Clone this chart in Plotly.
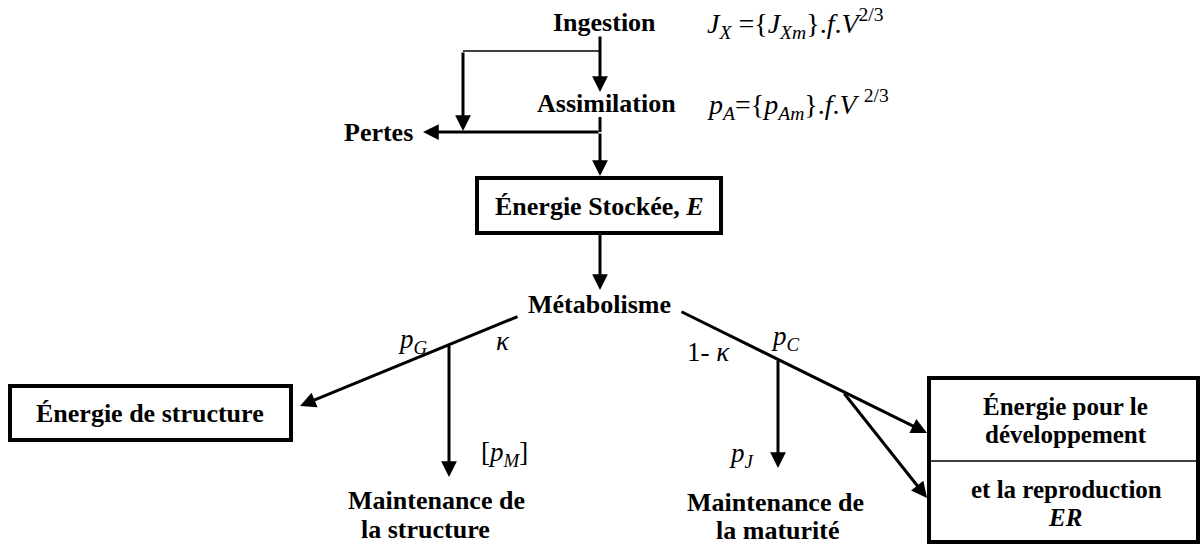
import plotly.graph_objects as go

# ---- text content of the diagram ----
flux_labels = ["Ingestion", "Assimilation", "Pertes", "Métabolisme"]
formulas = [
    "<i>J</i><sub><i>X</i></sub> ={<i>J</i><sub><i>Xm</i></sub>}.<i>f</i>.<i>V</i><sup>2/3</sup>",
    "<i>p</i><sub><i>A</i></sub>={<i>p</i><sub><i>Am</i></sub>}.<i>f</i>.<i>V</i> <sup>2/3</sup>",
]
box_labels = ["Énergie Stockée, <i>E</i>", "Énergie de structure"]
er_box_lines = ["Énergie pour le", "développement", "et la reproduction", "<i>ER</i>"]
maint_struct = ["Maintenance de", "la structure"]
maint_matur = ["Maintenance de", "la maturité"]
greek_labels = ["<i>p</i><sub><i>G</i></sub>", "<i>κ</i>", "1- <i>κ</i>", "<i>p</i><sub><i>C</i></sub>",
                "[<i>p</i><sub><i>M</i></sub>]", "<i>p</i><sub><i>J</i></sub>"]

W, H = 1202, 544
FONT = "Liberation Serif"
BOLD = 26
SMALL = 27
FORM = 28

fig = go.Figure()
fig.add_trace(go.Scatter(x=[0, W], y=[0, H], mode="markers", marker=dict(opacity=0), hoverinfo="skip",
                         showlegend=False))

ann = []
shapes = []


def txt(s, x, y, size=BOLD, bold=True, xanchor="center"):
    t = f"<b>{s}</b>" if bold else s
    ann.append(dict(text=t, x=x, y=y, xref="x", yref="y", showarrow=False, xanchor=xanchor,
                    yanchor="middle", font=dict(family=FONT, size=size, color="black")))


def arrow(x0, y0, x1, y1, w=3.0, size=1.05):
    ann.append(dict(text="", x=x1, y=y1, ax=x0, ay=y0, xref="x", yref="y", axref="x", ayref="y",
                    showarrow=True, arrowhead=2, arrowsize=size, arrowwidth=w, arrowcolor="black",
                    standoff=0, startstandoff=0))


def line(x0, y0, x1, y1, w=3.0):
    shapes.append(dict(type="line", x0=x0, y0=y0, x1=x1, y1=y1, xref="x", yref="y",
                       line=dict(color="black", width=w)))


def rect(x0, y0, x1, y1, w=4.0):
    shapes.append(dict(type="rect", x0=x0, y0=y0, x1=x1, y1=y1, xref="x", yref="y",
                       line=dict(color="black", width=w), fillcolor="rgba(0,0,0,0)"))


# top part
txt(flux_labels[0], 604, 22)
txt(formulas[0], 705, 23, size=FORM, bold=False, xanchor="left")
arrow(600, 35, 600, 92)
line(463, 51, 600, 51, w=1.5)
arrow(463, 51, 463, 131)
txt(flux_labels[1], 606, 103)
txt(formulas[1], 705, 104, size=FORM, bold=False, xanchor="left")
line(600, 117, 600, 132)
arrow(600, 132, 423, 132)
txt(flux_labels[2], 415, 132, xanchor="right")
arrow(600, 132, 600, 176)

# stored energy box
rect(477, 178, 721, 233)
txt(box_labels[0], 599, 206)
arrow(600, 233, 600, 290)
txt(flux_labels[3], 599, 304)

# left branch
arrow(519, 316, 300, 406)
arrow(449, 344, 449, 477)
rect(10, 386, 291, 440)
txt(box_labels[1], 150, 413)
txt(greek_labels[0], 413, 341, size=SMALL, bold=False)
txt(greek_labels[1], 503, 341, size=SMALL, bold=False)
txt(greek_labels[4], 504, 454, size=SMALL, bold=False)
txt(maint_struct[0], 436, 500)
txt(maint_struct[1], 425, 529)

# right branch
arrow(680, 311, 927, 433)
arrow(778, 359, 778, 468)
arrow(843, 392, 927, 498)
txt(greek_labels[2], 708, 352, size=SMALL, bold=False)
txt(greek_labels[3], 785, 338, size=SMALL, bold=False)
txt(greek_labels[5], 742, 455, size=SMALL, bold=False)
txt(maint_matur[0], 775, 502)
txt(maint_matur[1], 777, 530)

# ER box
rect(929, 378, 1198, 542)
line(929, 461, 1198, 461, w=1.5)
txt(er_box_lines[0], 1065, 406, size=25)
txt(er_box_lines[1], 1066, 434, size=25)
txt(er_box_lines[2], 1066, 489, size=25)
txt(er_box_lines[3], 1065, 517, size=25)

fig.update_layout(
    width=W, height=H, margin=dict(l=0, r=0, t=0, b=0),
    paper_bgcolor="white", plot_bgcolor="white",
    xaxis=dict(range=[0, W], visible=False, fixedrange=True),
    yaxis=dict(range=[H, 0], visible=False, fixedrange=True),
    annotations=ann, shapes=shapes, showlegend=False,
)
fig.write_html("out.html", config={"displayModeBar": False},
               post_script="document.body.style.margin='0';document.body.style.overflow='hidden';")
